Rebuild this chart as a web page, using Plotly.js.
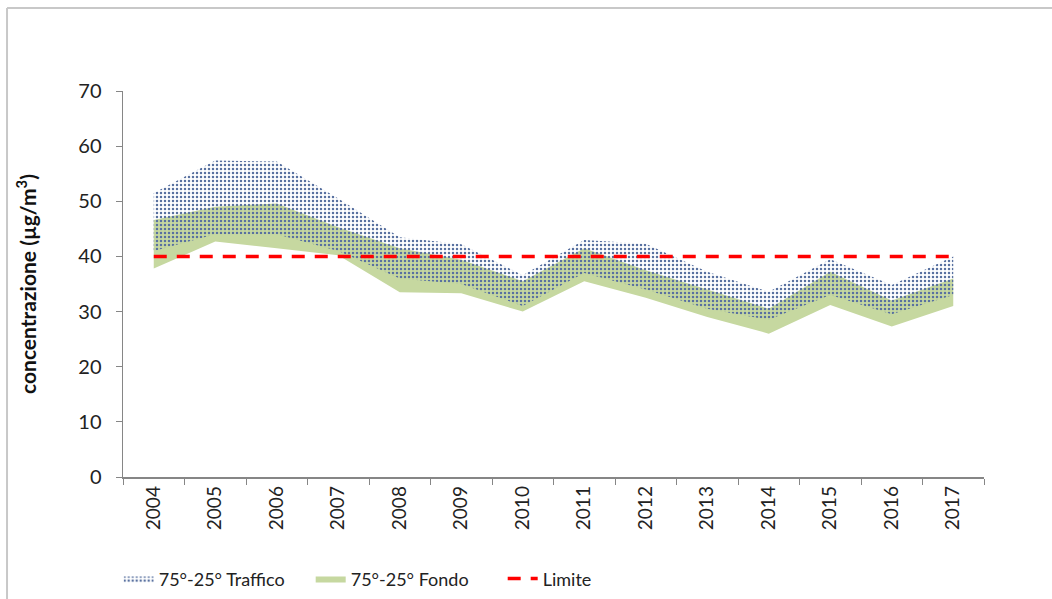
<!DOCTYPE html>
<html>
<head>
<meta charset="utf-8">
<script src="https://cdn.plot.ly/plotly-3.0.1.min.js"></script>
<style>
  html, body { margin: 0; padding: 0; background: #ffffff; }
  #chart { width: 1052px; height: 599px; }
</style>
</head>
<body>
<div id="chart"></div>
<script>
const years = ['2004','2005','2006','2007','2008','2009','2010','2011','2012','2013','2014','2015','2016','2017'];
const traffico75 = [51.5, 57.4, 57.2, 50.5, 43.5, 42.2, 36.6, 43.0, 42.3, 37.2, 33.6, 39.5, 34.8, 40.0];
const traffico25 = [41.0, 44.0, 44.0, 41.0, 36.0, 35.0, 31.0, 37.0, 34.0, 30.5, 28.5, 33.0, 29.5, 33.0];
const fondo75 = [46.6, 49.0, 49.6, 45.3, 41.5, 39.4, 35.5, 41.5, 37.5, 34.0, 30.5, 37.2, 32.0, 36.0];
const fondo25 = [37.8, 42.7, 41.5, 40.2, 33.5, 33.3, 30.0, 35.5, 32.5, 29.0, 26.0, 31.2, 27.3, 31.0];
const limite = [40, 40, 40, 40, 40, 40, 40, 40, 40, 40, 40, 40, 40, 40];

const FONT = 'Lato, "Open Sans", sans-serif';

const traces = [
  { x: years, y: fondo25, type: 'scatter', mode: 'lines', line: {width: 0}, showlegend: false, hoverinfo: 'skip' },
  { x: years, y: fondo75, type: 'scatter', mode: 'lines', line: {width: 0}, fill: 'tonexty',
    fillcolor: 'rgb(198,216,160)', name: '75°-25° Fondo', legendrank: 2 },
  { x: years, y: traffico25, type: 'scatter', mode: 'lines', line: {width: 0}, showlegend: false, hoverinfo: 'skip' },
  { x: years, y: traffico75, type: 'scatter', mode: 'lines', line: {width: 0}, fill: 'tonexty',
    fillcolor: 'rgba(255,255,255,0)',
    fillpattern: { shape: '.', size: 4, solidity: 0.3, fgcolor: 'rgb(88,112,160)', bgcolor: 'rgba(255,255,255,0)', fillmode: 'replace' },
    name: '75°-25° Traffico', legendrank: 1 },
  { x: years, y: limite, type: 'scatter', mode: 'lines', line: {color: '#ff0000', width: 3.5, dash: '13px,10px'},
    name: 'Limite', legendrank: 3 }
];

const layout = {
  width: 1052, height: 599,
  paper_bgcolor: '#ffffff', plot_bgcolor: '#ffffff',
  margin: {l: 123, r: 68, t: 91, b: 122, autoexpand: false},
  font: {family: FONT, size: 19, color: '#222222'},
  xaxis: {
    type: 'category', range: [-0.5, 13.5], tickson: 'boundaries', automargin: false,
    ticks: 'outside', ticklen: 6, tickcolor: '#868686',
    showline: true, linecolor: '#868686', linewidth: 1.5,
    showgrid: false, zeroline: false, tickangle: -90,
    tickfont: {family: FONT, size: 19, color: '#222222'}
  },
  yaxis: {
    range: [0, 70], dtick: 10, ticks: 'outside', ticklen: 6, tickcolor: '#868686', automargin: false,
    showline: true, linecolor: '#868686', linewidth: 1.5,
    showgrid: false, zeroline: false, ticklabelstandoff: 10,
    tickfont: {family: FONT, size: 20, color: '#222222'},
    title: {text: 'concentrazione (µg/m<sup>3</sup>)', font: {family: FONT, size: 21, color: '#111111', weight: 'bold'}, standoff: 36}
  },
  legend: {
    orientation: 'h', x: -0.005, xanchor: 'left', y: -0.264, yanchor: 'middle',
    entrywidth: 147, entrywidthmode: 'pixels', traceorder: 'normal',
    font: {family: FONT, size: 18, color: '#222222'}
  },
  shapes: [
    {type: 'line', xref: 'paper', yref: 'paper', x0: -0.1347, x1: 1.08, y0: 1.215, y1: 1.215, line: {color: '#c8c8c8', width: 2}},
    {type: 'line', xref: 'paper', yref: 'paper', x0: -0.1347, x1: -0.1347, y0: 1.215, y1: -0.32, line: {color: '#c8c8c8', width: 2}}
  ],
  showlegend: true
};

Plotly.newPlot('chart', traces, layout, {displayModeBar: false, staticPlot: true});
</script>
</body>
</html>
